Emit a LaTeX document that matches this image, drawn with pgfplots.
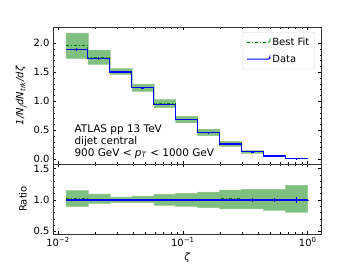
\documentclass[border=0pt]{standalone}
\usepackage{fontspec}
\setmainfont{DejaVu Sans}
\usepackage{pgfplots}
\usepackage{pgfplotstable}
\pgfplotsset{compat=1.18}
\definecolor{mplgreen}{RGB}{0,128,0}
\definecolor{mplblue}{RGB}{0,0,255}
\pgfplotsset{
  longleg/.style={legend image code/.code={%
    \draw[##1, mark=none] plot coordinates {(0bp,0bp) (23bp,0bp)};}},
}

% bin edges (last row repeats last bin), data, best fit
\pgfplotstableread{
edge data bf
0.01156 1.90 1.96
0.01734 1.74 1.75
0.02601 1.505 1.51
0.03901 1.23 1.24
0.05853 0.95 0.96
0.08779 0.69 0.69
0.1317 0.46 0.465
0.1975 0.265 0.27
0.2963 0.13 0.13
0.4444 0.057 0.057
0.6667 0.012 0.012
1.0 0.012 0.012
}\uppertab

% uncertainty band outline (upper edge forward, lower edge backward)
\pgfplotstableread{
x y
0.01156 2.18
0.01734 2.18
0.01734 1.88
0.02601 1.88
0.02601 1.56
0.03901 1.56
0.03901 1.30
0.05853 1.30
0.05853 1.03
0.08779 1.03
0.08779 0.74
0.1317 0.74
0.1317 0.52
0.1975 0.52
0.1975 0.31
0.2963 0.31
0.2963 0.152
0.4444 0.152
0.4444 0.067
0.6667 0.067
0.6667 0.0148
1.0 0.0148
1.0 0.0097
0.6667 0.0097
0.6667 0.048
0.4444 0.048
0.4444 0.112
0.2963 0.112
0.2963 0.23
0.1975 0.23
0.1975 0.41
0.1317 0.41
0.1317 0.63
0.08779 0.63
0.08779 0.89
0.05853 0.89
0.05853 1.18
0.03901 1.18
0.03901 1.47
0.02601 1.47
0.02601 1.64
0.01734 1.64
0.01734 1.74
0.01156 1.74
}\upperband

\pgfplotstableread{
edge one bf
0.01156 1 1.03
0.01734 1 1.006
0.02601 1 1.003
0.03901 1 1.008
0.05853 1 1.01
0.08779 1 1.0
0.1317 1 1.01
0.1975 1 1.02
0.2963 1 1.0
0.4444 1 1.0
0.6667 1 1.0
1.0 1 1.0
}\ratiotab

\pgfplotstableread{
x y
0.01156 1.148
0.01734 1.148
0.01734 1.096
0.02601 1.096
0.02601 1.05
0.03901 1.05
0.03901 1.064
0.05853 1.064
0.05853 1.09
0.08779 1.09
0.08779 1.107
0.1317 1.107
0.1317 1.13
0.1975 1.13
0.1975 1.16
0.2963 1.16
0.2963 1.17
0.4444 1.17
0.4444 1.17
0.6667 1.17
0.6667 1.234
1.0 1.234
1.0 0.81
0.6667 0.81
0.6667 0.84
0.4444 0.84
0.4444 0.86
0.2963 0.86
0.2963 0.86
0.1975 0.86
0.1975 0.88
0.1317 0.88
0.1317 0.904
0.08779 0.904
0.08779 0.92
0.05853 0.92
0.05853 0.96
0.03901 0.96
0.03901 0.96
0.02601 0.96
0.02601 0.947
0.01734 0.947
0.01734 0.90
0.01156 0.90
}\ratioband

% bin centres with data and errors
\pgfplotstableread{
x y e ry re
0.01416 1.90 0.025 1 0.012
0.02124 1.74 0.02 1 0.01
0.03186 1.505 0.012 1 0.008
0.04779 1.23 0.01 1 0.01
0.07168 0.95 0.008 1 0.012
0.1075 0.69 0.007 1 0.015
0.1613 0.46 0.006 1 0.02
0.2419 0.265 0.005 1 0.022
0.3629 0.13 0.003 1 0.025
0.5443 0.057 0.002 1 0.03
0.8165 0.012 0.001 1 0.045
}\errtab

\begin{document}
\begin{tikzpicture}
\path[use as bounding box] (0,0) rectangle (357bp,268bp);

% ---------------- upper panel ----------------
\begin{axis}[
  scale only axis,
  width=268.7bp,
  xmode=log,
  xmin=0.00912, xmax=1.294,
  tick align=inside,
  major tick length=3.5pt,
  minor tick length=2pt,
  every tick/.style={black, line width=0.5pt},
  axis line style={black!80, line width=0.6pt},
  /pgf/number format/assume math mode=true,
  tick label style={font=\fontsize{10}{12}\selectfont},
  label style={font=\fontsize{10}{12}\selectfont},
  yticklabel style={/pgf/number format/.cd, fixed, fixed zerofill, precision=1},
  minor y tick num=4,
  at={(53bp,104bp)}, anchor=south west,
  height=137bp,
  ymin=-0.08, ymax=2.28,
  ytick={0,0.5,1,1.5,2},
  xticklabels={},
  ylabel={\textit{1/N\textsubscript{j}dN\textsubscript{trk}/dζ}},
  legend style={at={(rel axis cs:0.975,0.963)}, anchor=north east,
    draw=black!15, rounded corners=2pt, fill=white,
    font=\fontsize{10}{12}\selectfont, row sep=4pt, inner sep=3.5pt},
  longleg,
  legend cell align=left,
]
\addplot[fill=mplgreen, fill opacity=0.5, draw=mplgreen!45, draw opacity=0.7, line width=0.6pt, forget plot]
  table[x=x, y=y] {\upperband} -- cycle;
\addplot[color=mplgreen, mark=none, line width=1pt, dash dot, const plot] table[x=edge, y=bf] {\uppertab};
\addlegendentry{Best Fit}
\addplot[color=mplblue, mark=none, line width=1.1pt, const plot] table[x=edge, y=data] {\uppertab};
\addlegendentry{Data}
\addplot[mplblue, only marks, mark=-, mark size=1.5pt, forget plot,
  error bars/.cd, y dir=both, y explicit, error mark=none,
  error bar style={line width=1pt, mplblue}]
  table[x=x, y=y, y error=e] {\errtab};
\node[anchor=west, align=left, font=\fontsize{10.5}{11.6}\selectfont]
  at (rel axis cs:0.067,0.163)
  {ATLAS pp 13 TeV\\dijet central\\900 GeV < \textit{p}\textsubscript{\textit{T}} < 1000 GeV};
\end{axis}

% ---------------- ratio panel ----------------
\begin{axis}[
  scale only axis,
  width=268.7bp,
  xmode=log,
  xmin=0.00912, xmax=1.294,
  tick align=inside,
  major tick length=3.5pt,
  minor tick length=2pt,
  every tick/.style={black, line width=0.5pt},
  axis line style={black!80, line width=0.6pt},
  /pgf/number format/assume math mode=true,
  tick label style={font=\fontsize{10}{12}\selectfont},
  label style={font=\fontsize{10}{12}\selectfont},
  yticklabel style={/pgf/number format/.cd, fixed, fixed zerofill, precision=1},
  minor y tick num=4,
  at={(53bp,34bp)}, anchor=south west,
  height=70bp,
  ymin=0.458, ymax=1.574,
  ytick={0.5,1.0,1.5},
  xtick={0.01,0.1,1},
  xticklabels={{10\textsuperscript{−2}},{10\textsuperscript{−1}},{10\textsuperscript{0}}},
  xlabel={\textit{ζ}},
  ylabel={Ratio},
]
\addplot[fill=mplgreen, fill opacity=0.5, draw=mplgreen!45, draw opacity=0.7, line width=0.6pt]
  table[x=x, y=y] {\ratioband} -- cycle;
\addplot[mplgreen, mark=none, line width=1pt, dash dot, const plot] table[x=edge, y=bf] {\ratiotab};
\addplot[mplblue, mark=none, line width=1.1pt, const plot] table[x=edge, y=one] {\ratiotab};
\addplot[mplblue, only marks, mark=-, mark size=1.5pt,
  error bars/.cd, y dir=both, y explicit, error mark=none,
  error bar style={line width=1pt, mplblue}]
  table[x=x, y=ry, y error=re] {\errtab};
\end{axis}
\end{tikzpicture}
\end{document}
